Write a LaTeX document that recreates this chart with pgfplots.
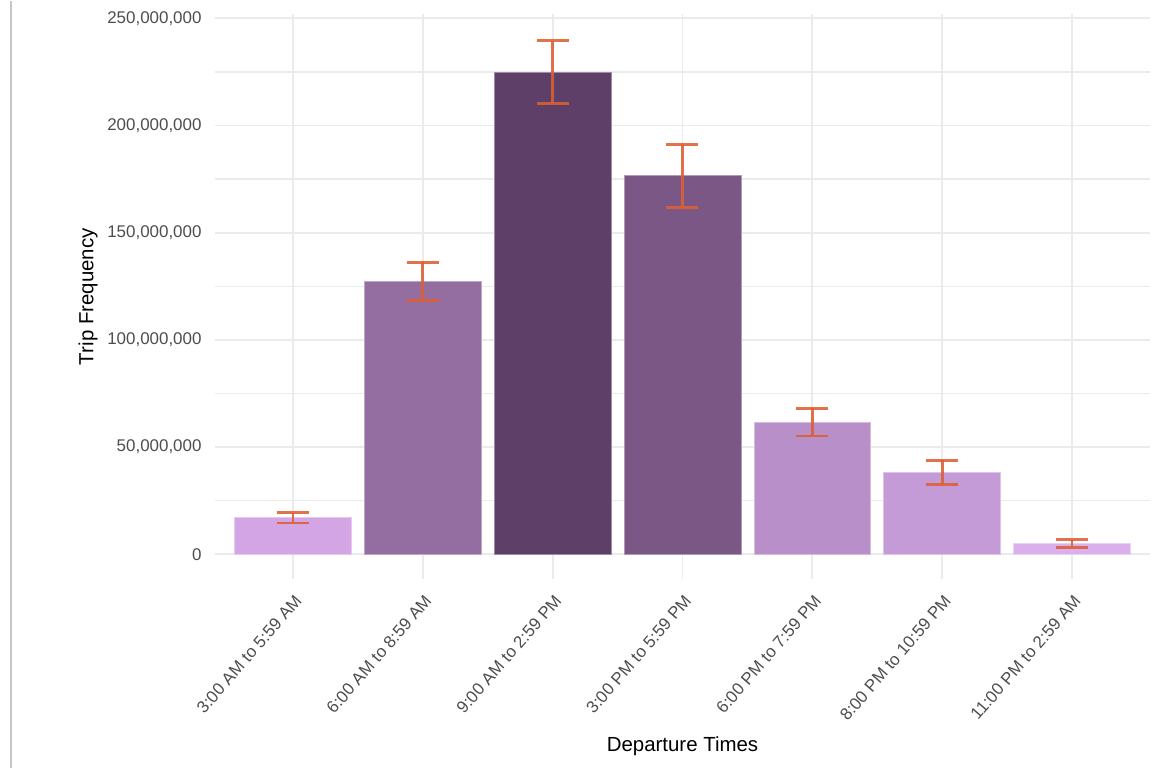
\documentclass[border=0pt]{standalone}
\usepackage{pgfplots}
\pgfplotsset{compat=1.18}
\usetikzlibrary{calc}
\usepackage{fontspec}
\setmainfont{Liberation Sans}
\definecolor{gridc}{HTML}{EBEBEB}
\definecolor{tickc}{HTML}{4D4D4D}
\definecolor{errc}{HTML}{DE5F32}
\definecolor{c1}{HTML}{D4A5E5}
\definecolor{c2}{HTML}{946EA0}
\definecolor{c3}{HTML}{5E3F68}
\definecolor{c4}{HTML}{7A5785}
\definecolor{c5}{HTML}{B98FCA}
\definecolor{c6}{HTML}{C49BD7}
\definecolor{c7}{HTML}{D9AFEC}
\begin{document}
\begin{tikzpicture}
\begin{axis}[
  scale only axis,
  width=935bp, height=565bp,
  xmin=-0.6, xmax=6.6,
  ymin=-11.7e6, ymax=251.9e6,
  axis line style={draw=none},
  major tick length=0pt,
  minor tick length=0pt,
  xtick={0,1,2,3,4,5,6},
  xticklabels={3:00 AM to 5:59 AM,6:00 AM to 8:59 AM,9:00 AM to 2:59 PM,3:00 PM to 5:59 PM,6:00 PM to 7:59 PM,8:00 PM to 10:59 PM,11:00 PM to 2:59 AM},
  ytick={0,50e6,100e6,150e6,200e6,250e6},
  minor ytick={25e6,75e6,125e6,175e6,225e6},
  scaled y ticks=false,
  /pgf/number format/assume math mode=true,
  yticklabel style={/pgf/number format/.cd, fixed, precision=0, 1000 sep={,}, /tikz/.cd, xshift=-10bp},
  ymajorgrids, xmajorgrids, yminorgrids,
  major grid style={draw=gridc, line width=1.9bp},
  minor grid style={draw=gridc, line width=1.2bp},
  tick label style={font=\fontsize{17}{20}\selectfont, text=tickc},
  xticklabel style={rotate=49, anchor=north east, inner sep=2bp, xshift=-8.4bp, yshift=-8bp},
  every axis x label/.style={at={(axis description cs:0.5,0)}, yshift=-167bp, anchor=center},
  every axis y label/.style={at={(axis description cs:0,0.5)}, xshift=-127bp, rotate=90, anchor=center},
  label style={font=\fontsize{20.5}{24}\selectfont},
  xlabel={Departure Times},
  ylabel={Trip Frequency},
  ybar, bar width=0.9, bar shift=0,
  clip=false,
  error bars/y dir=both, error bars/y explicit,
  error bars/error bar style={draw=errc, line width=2.7bp, opacity=0.88},
  error bars/error mark options={draw=errc, line width=2.7bp, mark size=16bp, opacity=0.88, rotate=90},
]
\addplot[fill=c1, draw=c1!60!white, line width=0.8bp] coordinates {(0,17.0e6) +- (0,2.4e6)};
\addplot[fill=c2, draw=c2!60!white, line width=0.8bp] coordinates {(1,127.3e6) +- (0,8.9e6)};
\addplot[fill=c3, draw=c3!60!white, line width=0.8bp] coordinates {(2,225.0e6) +- (0,14.6e6)};
\addplot[fill=c4, draw=c4!60!white, line width=0.8bp] coordinates {(3,176.5e6) +- (0,14.6e6)};
\addplot[fill=c5, draw=c5!60!white, line width=0.8bp] coordinates {(4,61.6e6) +- (0,6.5e6)};
\addplot[fill=c6, draw=c6!60!white, line width=0.8bp] coordinates {(5,38.2e6) +- (0,5.6e6)};
\addplot[fill=c7, draw=c7!60!white, line width=0.8bp] coordinates {(6,5.0e6) +- (0,1.8e6)};
\end{axis}
\path (current axis.south west) ++(-215bp,-189bp) coordinate (bbsw) rectangle ++(1153bp,767bp);
\draw[black!22, line width=2.5bp] ($(bbsw)+(11bp,0)$) -- ++(0,767bp);
\end{tikzpicture}
\end{document}
